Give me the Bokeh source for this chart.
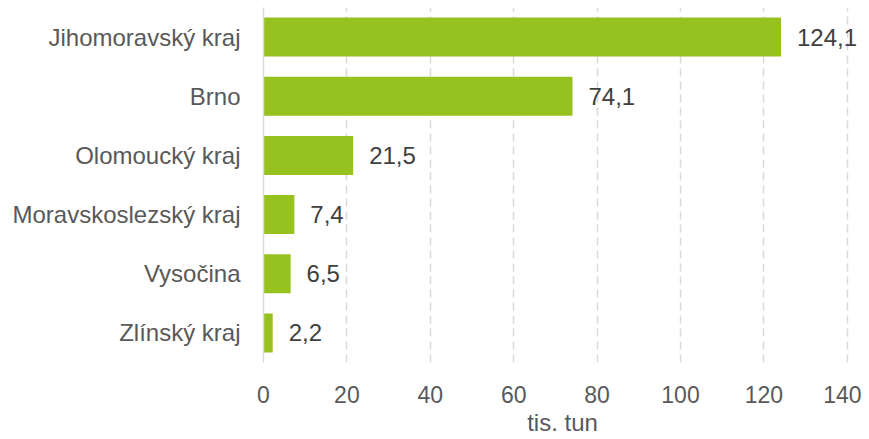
from bokeh.plotting import figure
from bokeh.models import ColumnDataSource, Range1d, FactorRange, FixedTicker, LabelSet
from bokeh.core.properties import value
from bokeh.embed import file_html
from bokeh.resources import INLINE

regions = ["Jihomoravský kraj", "Brno", "Olomoucký kraj", "Moravskoslezský kraj", "Vysočina", "Zlínský kraj"]
values = [124.1, 74.1, 21.5, 7.4, 6.5, 2.2]
x_ticks = [0, 20, 40, 60, 80, 100, 120, 140]
x_title = "tis. tun"

labels = [f"{v:.1f}".replace(".", ",") for v in values]
src = ColumnDataSource(dict(region=regions, value=values, label=labels))

FONT = "Liberation Sans"
GREEN = "#97C11F"

p = figure(width=861, height=438, output_backend="svg", toolbar_location=None,
           y_range=FactorRange(factors=list(reversed(regions)), range_padding=0),
           x_range=Range1d(0, 143.4))
p.min_border_left = 263
p.min_border_right = 0
p.min_border_top = 7
p.min_border_bottom = 60
p.outline_line_color = None
p.background_fill_color = "white"
p.border_fill_color = "white"

p.hbar(y="region", right="value", left=0, height=0.66, source=src,
       fill_color=GREEN, line_color=None)

p.add_layout(LabelSet(x="value", y="region", text="label", source=src,
                      x_offset=16, text_baseline="middle", text_align="left",
                      text_font=value(FONT), text_font_size=value("24px"),
                      text_color="#404040"))

p.xaxis.ticker = FixedTicker(ticks=x_ticks)
p.xaxis.axis_line_color = None
p.xaxis.major_tick_line_color = None
p.xaxis.minor_tick_line_color = None
p.xaxis.major_label_text_font = FONT
p.xaxis.major_label_text_font_size = "23px"
p.xaxis.major_label_text_color = "#595959"
p.xaxis.major_label_standoff = 17
p.xaxis.axis_label = x_title
p.xaxis.axis_label_text_font = FONT
p.xaxis.axis_label_text_font_size = "24px"
p.xaxis.axis_label_text_font_style = "normal"
p.xaxis.axis_label_text_color = "#595959"
p.xaxis.axis_label_standoff = 3

p.yaxis.axis_line_color = "#D9D9D9"
p.yaxis.axis_line_width = 1.5
p.yaxis.major_tick_line_color = None
p.yaxis.minor_tick_line_color = None
p.yaxis.major_label_text_font = FONT
p.yaxis.major_label_text_font_size = "24px"
p.yaxis.major_label_text_color = "#595959"
p.yaxis.major_label_standoff = 17

p.ygrid.grid_line_color = None
p.xgrid.grid_line_color = "#D9D9D9"
p.xgrid.grid_line_width = 1.5
p.xgrid.grid_line_dash = "8 5"

open("out.html", "w").write(file_html(p, INLINE))
